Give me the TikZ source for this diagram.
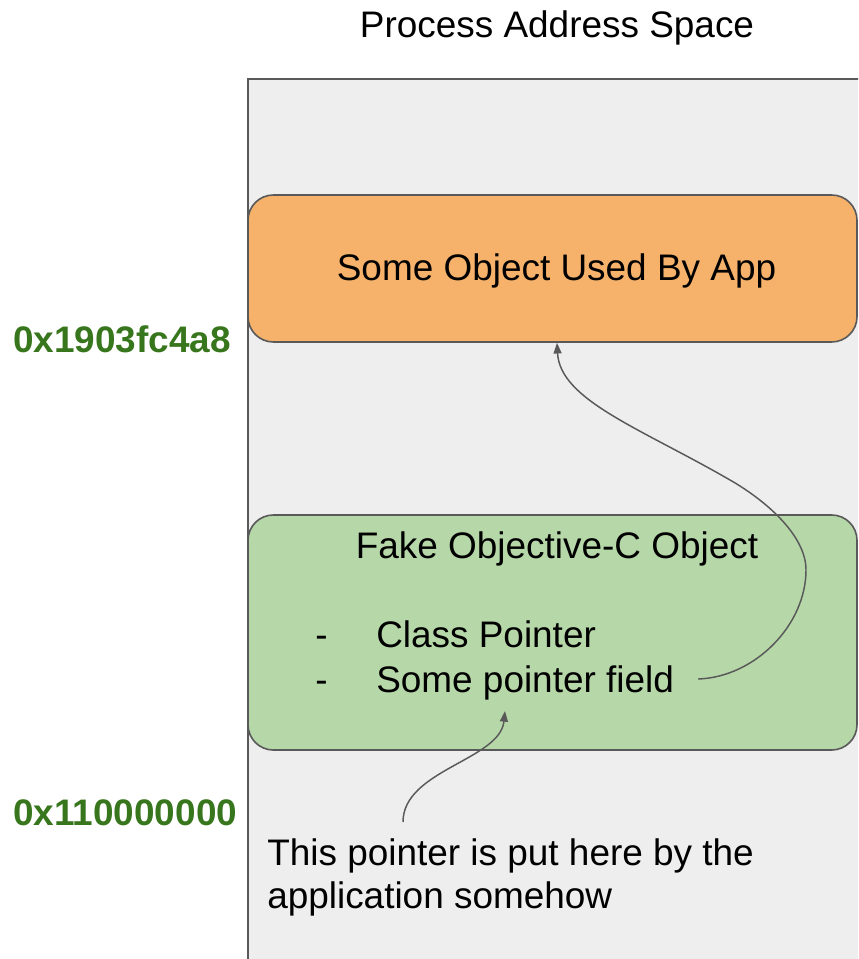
\documentclass[tikz,border=0pt]{standalone}
\usepackage{fontspec}
\setmainfont{Liberation Sans}
\usetikzlibrary{arrows.meta,calc}
\definecolor{pagegray}{HTML}{EEEEEE}
\definecolor{edgegray}{HTML}{595959}
\definecolor{objorange}{HTML}{F6B26B}
\definecolor{objgreen}{HTML}{B6D7A8}
\definecolor{addrgreen}{HTML}{38761D}
\begin{document}
\begin{tikzpicture}[x=0.75pt,y=-0.75pt,
  bigtext/.style={font=\fontsize{27.7pt}{32pt}\selectfont, inner sep=0pt},
  addr/.style={font=\fontsize{27.7pt}{32pt}\selectfont\bfseries, text=addrgreen, inner sep=0pt, anchor=base west},
  membox/.style={draw=edgegray, line width=1.2pt, rounded corners=19pt, minimum width=456.75pt, inner sep=0pt},
  ptr/.style={draw=edgegray, line width=1.1pt, -{Triangle[length=8pt,width=6pt]}}
]
\useasboundingbox (0,0) rectangle (858,959);
\clip (0,0) rectangle (858,959);
% address space
\draw[fill=pagegray, draw=edgegray, line width=1.2pt] (248,79) rectangle (920,1010);
\node[bigtext, anchor=base] (title) at (557,38) {Process Address Space};
% boxes
\node[membox, fill=objorange, minimum height=110.25pt] (obj) at (552.5,268.5) {};
\node[bigtext, anchor=base] (objtext) at (556.5,280) {Some Object Used By App};
\node[membox, fill=objgreen, minimum height=176.25pt] (fake) at (552.5,632.5) {};
\node[bigtext, anchor=base] (faketitle) at (557,558) {Fake Objective-C Object};
\node[bigtext, anchor=base west] (dash1) at (315,647) {-};
\node[bigtext, anchor=base west] (cls) at (376,647) {Class Pointer};
\node[bigtext, anchor=base west] (dash2) at (315,692) {-};
\node[bigtext, anchor=base west] (field) at (376,692) {Some pointer field};
% addresses
\node[addr] (addr1) at (13,352) {0x1903fc4a8};
\node[addr] (addr2) at (13,825) {0x110000000};
% note
\node[bigtext, anchor=base west] (note1) at (267,865) {This pointer is put here by the};
\node[bigtext, anchor=base west] (note2) at (267,908) {application somehow};
% connectors
\coordinate (tip1) at (557,0);
\coordinate (tip2) at (505,711);
\draw[ptr] ($(field.base east)+(24,-13)$) .. controls (755,677) and (806,625) .. (806,570)
  .. controls (806,535) and (765,500) .. (730,480)
  .. controls (640,428) and (560,400) .. (tip1 |- obj.south);
\draw[ptr] ($(note1.base west)+(136,-43)$) .. controls (403,770) and (500,760) .. (tip2);
\end{tikzpicture}
\end{document}
